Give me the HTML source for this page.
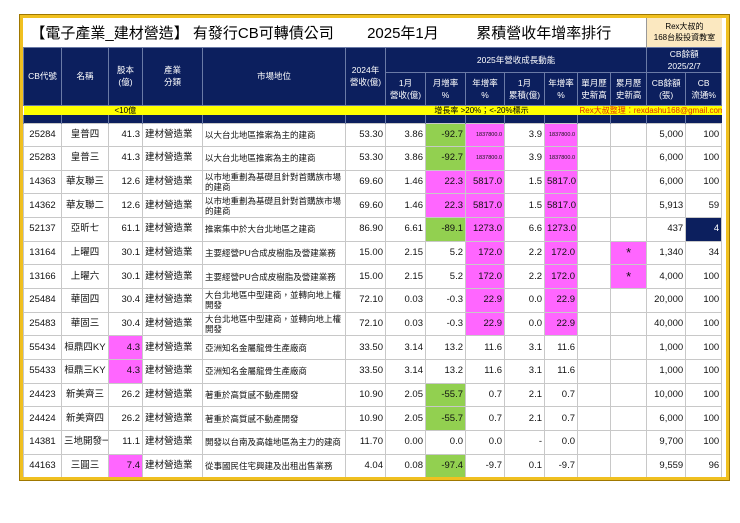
<!DOCTYPE html>
<html><head><meta charset="utf-8">
<style>
body{margin:0;width:740px;height:523px;background:#fff;position:relative;overflow:hidden;font-family:"Liberation Sans","Noto Sans CJK TC",sans-serif;}
#frame{position:absolute;left:20px;top:15px;width:703px;height:459px;border:3px solid #f0c020;outline:1px solid #a07800;overflow:hidden;}
table{border-collapse:collapse;table-layout:fixed;width:698px;position:absolute;left:0;top:0;}
td{padding:0 2px;font-size:9.5px;overflow:hidden;white-space:nowrap;box-sizing:border-box;}
.title td{height:29px;}
.hd td{background:#0c1f5e;color:#fff;text-align:center;border:1px solid #6a7aa6;font-size:8.5px;line-height:12px;white-space:nowrap;padding:0;}
.yl td{background:#ffff00;height:10px;font-size:8px;line-height:9px;border:none;}
.dk td{background:#0c1f5e;height:8px;border-left:1px solid #6a7aa6;}
.d td{height:23.67px;border:1px solid #c8c8c8;color:#111;text-align:right;line-height:10px;}
.d td.c{text-align:center}.d td.l{text-align:left}
.g{background:#92d050}.m{background:#ff66ff}.n{background:#0c1f5e;color:#fff !important}
.s{font-size:5.5px !important}
.w{white-space:normal !important;line-height:10px !important;font-size:8.5px !important;}
</style></head><body>
<div id="frame">
<table>
<colgroup><col style="width:38px"><col style="width:47px"><col style="width:34px"><col style="width:60px"><col style="width:143px"><col style="width:40px"><col style="width:40px"><col style="width:40px"><col style="width:39px"><col style="width:40px"><col style="width:33px"><col style="width:33px"><col style="width:36px"><col style="width:39px"><col style="width:36px"></colgroup>
<tr class="title">
<td colspan="13" style="font-size:15px;text-align:center;padding-right:30px">【電子產業_建材營造】 有發行CB可轉債公司&nbsp;&nbsp;&nbsp;&nbsp;&nbsp;&nbsp;&nbsp;&nbsp;2025年1月&nbsp;&nbsp;&nbsp;&nbsp;&nbsp;&nbsp;&nbsp;&nbsp;&nbsp;累積營收年增率排行</td>
<td colspan="2" style="background:#fbe8c0;text-align:center;font-size:8px;line-height:11px;border-left:1px solid #999;padding:0">Rex大叔的<br>168台股投資教室</td></tr>
<tr class="hd">
<td rowspan="2">CB代號</td><td rowspan="2">名稱</td><td rowspan="2">股本<br>(億)</td><td rowspan="2">產業<br>分類</td><td rowspan="2">市場地位</td><td rowspan="2">2024年<br>營收(億)</td>
<td colspan="7" style="height:20px">2025年營收成長動能</td><td colspan="2">CB餘額<br>2025/2/7</td></tr>
<tr class="hd">
<td style="height:33px">1月<br>營收(億)</td><td>月增率<br>%</td><td>年增率<br>%</td><td>1月<br>累積(億)</td><td>年增率<br>%</td><td>單月歷<br>史新高</td><td>累月歷<br>史新高</td><td>CB餘額<br>(張)</td><td>CB<br>流通%</td></tr>
<tr class="yl"><td colspan="2"></td><td colspan="2" style="padding-left:6px">&lt;10億</td><td colspan="2"></td><td colspan="5" style="text-align:center">增長率 &gt;20%；&lt;-20%標示</td><td colspan="4" style="color:#e03000;text-align:right;padding-right:4px">Rex大叔整理：rexdashu168@gmail.com</td></tr>
<tr class="dk"><td></td><td></td><td></td><td></td><td></td><td></td><td></td><td></td><td></td><td></td><td></td><td></td><td></td><td></td><td></td></tr>
<tbody id="body"></tbody>
</table></div>
<script>
const codes=["25284","25283","14363","14362","52137","13164","13166","25484","25483","55434","55433","24423","24424","14381","44163"];
const names=["皇普四","皇普三","華友聯三","華友聯二","亞昕七","上曜四","上曜六","華固四","華固三","桓鼎四KY","桓鼎三KY","新美齊三","新美齊四","三地開發一","三圓三"];
const capital=[41.3,41.3,12.6,12.6,61.1,30.1,30.1,30.4,30.4,4.3,4.3,26.2,26.2,11.1,7.4];
const market=["以大台北地區推案為主的建商","以大台北地區推案為主的建商","以市地重劃為基礎且針對首購族市場的建商","以市地重劃為基礎且針對首購族市場的建商","推案集中於大台北地區之建商","主要經營PU合成皮樹脂及營建業務","主要經營PU合成皮樹脂及營建業務","大台北地區中型建商，並轉向地上權開發","大台北地區中型建商，並轉向地上權開發","亞洲知名金屬龍骨生產廠商","亞洲知名金屬龍骨生產廠商","著重於高質感不動產開發","著重於高質感不動產開發","開發以台南及高雄地區為主力的建商","從事國民住宅興建及出租出售業務"];
const rev2024=[53.30,53.30,69.60,69.60,86.90,15.00,15.00,72.10,72.10,33.50,33.50,10.90,10.90,11.70,4.04];
const revJan=[3.86,3.86,1.46,1.46,6.61,2.15,2.15,0.03,0.03,3.14,3.14,2.05,2.05,0.00,0.08];
const mom=[-92.7,-92.7,22.3,22.3,-89.1,5.2,5.2,-0.3,-0.3,13.2,13.2,-55.7,-55.7,0.0,-97.4];
const yoy=[1837800.0,1837800.0,5817.0,5817.0,1273.0,172.0,172.0,22.9,22.9,11.6,11.6,0.7,0.7,0.0,-9.7];
const cum=["3.9","3.9","1.5","1.5","6.6","2.2","2.2","0.0","0.0","3.1","3.1","2.1","2.1","-","0.1"];
const cumYoy=[1837800.0,1837800.0,5817.0,5817.0,1273.0,172.0,172.0,22.9,22.9,11.6,11.6,0.7,0.7,0.0,-9.7];
const cumHigh=["","","","","","*","*","","","","","","","",""];
const cbBal=[5000,6000,6000,5913,437,1340,4000,20000,40000,1000,1000,10000,6000,9700,9559];
const cbPct=[100,100,100,59,4,34,100,100,100,100,100,100,100,100,96];
const tb=document.getElementById('body');
function hl(v){return v>20?'m':(v<-20?'g':'');}
codes.forEach((c,i)=>{
 const tr=document.createElement('tr');tr.className='d';
 
 
 const cells=[
  [c,'c'],[names[i],'c'],[capital[i].toFixed(1),capital[i]<10?'m':''],['建材營造業','l'],[market[i],'l w'],
  [rev2024[i].toFixed(2),''],[revJan[i].toFixed(2),''],[mom[i].toFixed(1),hl(mom[i])],
  [yoy[i].toFixed(1),hl(yoy[i])+(yoy[i]>100000?' s':'')],[cum[i],''],
  [cumYoy[i].toFixed(1),hl(cumYoy[i])+(cumYoy[i]>100000?' s':'')],['',''],
  [cumHigh[i],cumHigh[i]?'m c':'c'],[cbBal[i].toLocaleString('en-US'),''],[String(cbPct[i]),cbPct[i]<10?'n':'']
 ];
 cells.forEach((x,j)=>{const td=document.createElement('td');td.textContent=x[0];td.className=x[1];
  
  
  if(j==12&&x[0])td.style.fontSize='13px';
  tr.appendChild(td);});
 tb.appendChild(tr);
});
</script>
</body></html>
